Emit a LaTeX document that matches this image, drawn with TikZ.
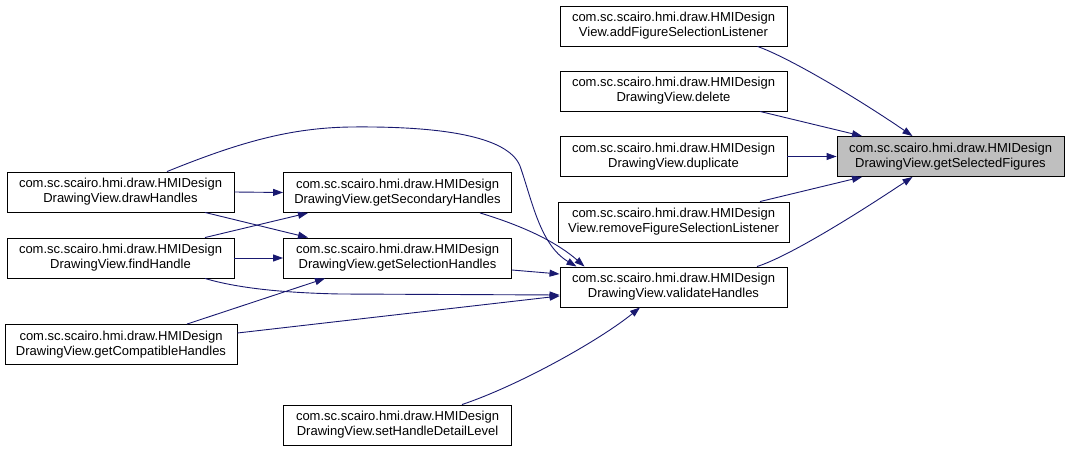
\documentclass[tikz,border=0pt]{standalone}
\usepackage{fontspec}
\setmainfont{Liberation Sans}
\usetikzlibrary{arrows.meta}
\definecolor{edgeblue}{HTML}{191970}
\definecolor{hlgray}{HTML}{BFBFBF}
\tikzset{
  fn/.style={draw=black, fill=white, line width=0.9pt, minimum height=40pt, inner sep=0pt, align=center,
     font=\fontsize{13}{15}\selectfont},
  hl/.style={fn, fill=hlgray},
  call/.style={draw=edgeblue, line width=0.9pt, -{Triangle[length=10pt,width=7pt]}}
}
\begin{document}
\begin{tikzpicture}[x=1pt,y=-1pt]
\useasboundingbox (0,0) rectangle (1069,452);
\node[hl, minimum width=227pt] (tgt) at (950.5,156.5) {com.sc.scairo.hmi.draw.HMIDesign\\DrawingView.getSelectedFigures};
\node[fn, minimum width=227pt] (add) at (673.5,26) {com.sc.scairo.hmi.draw.HMIDesign\\View.addFigureSelectionListener};
\node[fn, minimum width=227pt] (del) at (673.5,91) {com.sc.scairo.hmi.draw.HMIDesign\\DrawingView.delete};
\node[fn, minimum width=227pt] (dup) at (673.5,156.5) {com.sc.scairo.hmi.draw.HMIDesign\\DrawingView.duplicate};
\node[fn, minimum width=231pt] (rem) at (673.5,222) {com.sc.scairo.hmi.draw.HMIDesign\\View.removeFigureSelectionListener};
\node[fn, minimum width=227pt] (val) at (673.5,287) {com.sc.scairo.hmi.draw.HMIDesign\\DrawingView.validateHandles};
\node[fn, minimum width=228pt] (sec) at (397.5,192.5) {com.sc.scairo.hmi.draw.HMIDesign\\DrawingView.getSecondaryHandles};
\node[fn, minimum width=228pt] (sel) at (397.5,258) {com.sc.scairo.hmi.draw.HMIDesign\\DrawingView.getSelectionHandles};
\node[fn, minimum width=228pt] (set) at (397.5,425) {com.sc.scairo.hmi.draw.HMIDesign\\DrawingView.setHandleDetailLevel};
\node[fn, minimum width=227pt] (drw) at (120.5,192) {com.sc.scairo.hmi.draw.HMIDesign\\DrawingView.drawHandles};
\node[fn, minimum width=227pt] (fnd) at (120.5,258) {com.sc.scairo.hmi.draw.HMIDesign\\DrawingView.findHandle};
\node[fn, minimum width=232pt] (cmp) at (121,344.5) {com.sc.scairo.hmi.draw.HMIDesign\\DrawingView.getCompatibleHandles};

% callers of getSelectedFigures
\draw[call] ([xshift=84pt]add.south) .. controls (790,58) and (860,100) .. ([xshift=-38pt]tgt.north);
\draw[call] ([xshift=86.5pt]del.south) -- ([xshift=-88.5pt]tgt.north);
\draw[call] (dup.east) -- (tgt.west);
\draw[call] ([xshift=86.5pt]rem.north) -- ([xshift=-88.5pt]tgt.south);
\draw[call] ([xshift=83.5pt]val.north) .. controls (790,256) and (860,212) .. ([xshift=-38pt]tgt.south);

% left part
\draw[call] (drw.east) -- (sec.west);
\draw[call] ([xshift=84.5pt]drw.south) -- ([xshift=-89.5pt]sel.north);
\draw[call] ([xshift=84.5pt]fnd.north) -- ([xshift=-89.5pt]sec.south);
\draw[call] (fnd.east) -- (sel.west);
\draw[call] ([xshift=46.5pt]drw.north) .. controls (240,142) and (290,128) .. (350,127)
   .. controls (440,126) and (508,136) .. (520,166)
   .. controls (532,200) and (540,245) .. ([xshift=-97pt]val.north);
\draw[call] ([xshift=84.5pt]fnd.south) .. controls (240,289) and (290,293) .. (340,294)
   -- ([yshift=-8pt]val.west);
\draw[call] ([xshift=66pt]cmp.north) -- ([xshift=-72.5pt]sel.south);
\draw[call] ([yshift=11.5pt]cmp.east) -- ([yshift=-9pt]val.west);
\draw[call] ([xshift=82.5pt]sec.south) .. controls (530,228) and (560,245) .. ([xshift=-89pt]val.north);
\draw[call] ([yshift=-12pt]sel.east) -- ([yshift=13pt]val.west);
\draw[call] ([xshift=64.5pt]set.north) .. controls (520,385) and (600,340) .. ([xshift=-33.5pt]val.south);
\end{tikzpicture}
\end{document}
